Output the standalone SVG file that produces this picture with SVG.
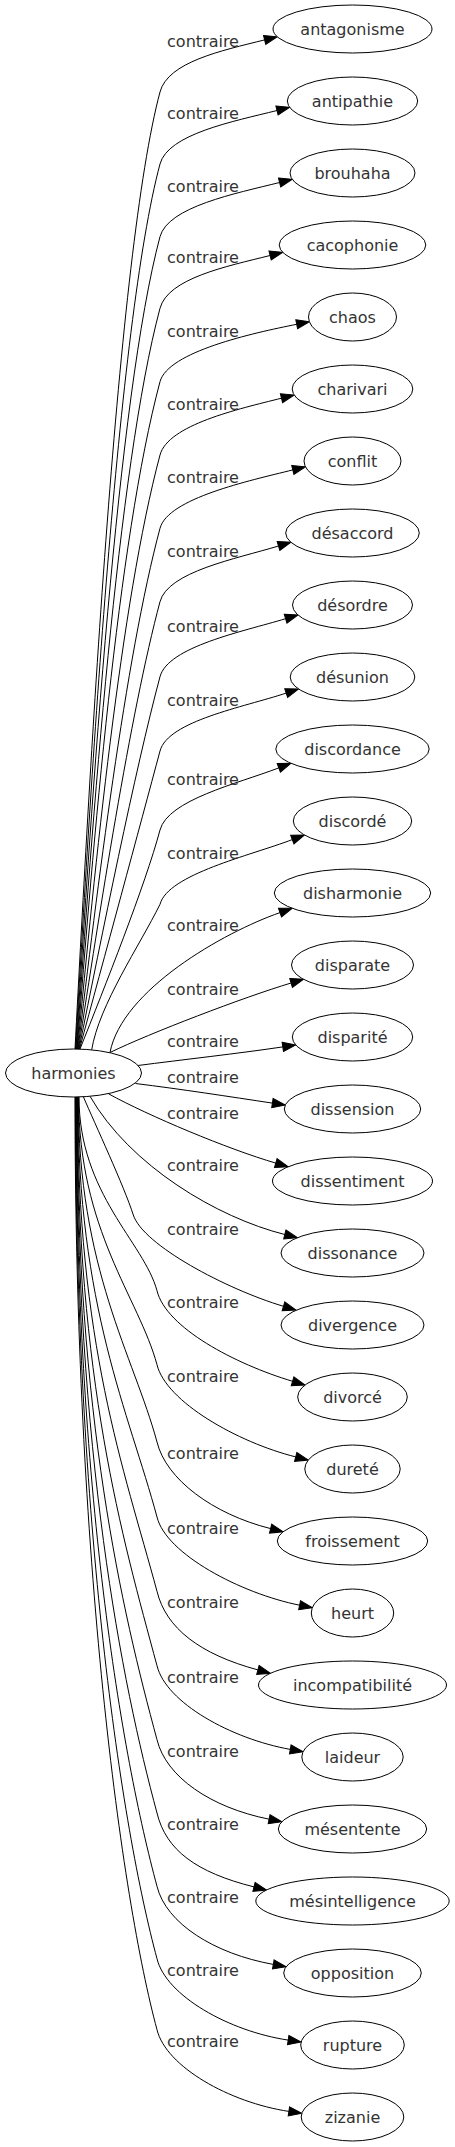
<svg xmlns="http://www.w3.org/2000/svg" width="455" height="2147" viewBox="0 0 455 2147">
<defs>
<style>
.e{fill:none;stroke:#000;stroke-width:1;marker-end:url(#arr)}
.n ellipse{fill:#fff;stroke:#000;stroke-width:1}
text{font-family:"DejaVu Sans","Liberation Sans",sans-serif;font-size:16px;fill:#333;text-anchor:middle}
</style>
<marker id="arr" markerUnits="userSpaceOnUse" markerWidth="15" markerHeight="12" refX="0" refY="6" orient="auto" overflow="visible">
<path d="M0,1.4 L13,6 L0,10.6 Z" fill="#000" stroke="#000" stroke-width="1"/>
</marker>
</defs>
<rect width="455" height="2147" fill="#fff"/>
<g id="edges">
<path class="e" d="M75,1049 C90.2,762.3 117.3,252 160,92 C168,62 220.9,50.8 264.6,39.9"/>
<path class="e" d="M75.5,1049 C90.8,783.9 117.3,324 160,164 C168,134 233.4,121.4 277,110.5"/>
<path class="e" d="M76,1049 C91.4,805.8 117.3,396.7 160,236.7 C168,206.7 235.9,193.4 279.6,182.5"/>
<path class="e" d="M76.5,1049 C92.1,827.4 117.3,468.3 160,308.3 C168,278.3 226.4,266.4 270.1,255.5"/>
<path class="e" d="M77,1049 C92.9,849.4 117.3,541.7 160,381.7 C168,351.7 252.5,333.1 296.7,324.3"/>
<path class="e" d="M77.5,1049 C94.6,871.6 120.4,603.5 160,455 C168,425 237.8,409.1 281.5,398.2"/>
<path class="e" d="M78,1049 C96.7,893.9 125.2,658.5 160,528.3 C168,498.3 249.1,480.8 292.8,469.9"/>
<path class="e" d="M78.5,1049 C98.9,916.4 130.1,713.5 160,601.7 C168,571.7 235.4,559 278.5,546"/>
<path class="e" d="M79,1049 C101,939.5 135.1,769.8 160,676.7 C168,646.7 242.5,631.7 285.6,618.7"/>
<path class="e" d="M79.5,1049 C102.9,962.7 140.1,825.5 160,751 C168,721 243.4,707.2 286.2,693.1"/>
<path class="e" d="M80,1049 C104.3,988 145.4,884.8 160,830 C168,800 236.7,783.9 278.8,767.9"/>
<path class="e" d="M91.7,1049.8 C99,1005 140,945 160,904.3 C168,874.3 250.2,855.6 292.3,839.6"/>
<path class="e" d="M110,1052.5 C122,990 223.4,932.4 280,912.6"/>
<path class="e" d="M110,1052.5 C150,1033.1 243.2,997.4 291.1,983"/>
<path class="e" d="M138,1065.5 C180,1060 240,1053.3 282.8,1046.9"/>
<path class="e" d="M135.5,1083.5 C180,1089 230,1096.7 272.4,1103.1"/>
<path class="e" d="M108.5,1093.8 C148.5,1115.8 227.8,1149.1 275.8,1163.1"/>
<path class="e" d="M90,1096.3 C130,1165.6 216.9,1217.5 284.8,1234.5"/>
<path class="e" d="M83.3,1096.6 C95,1124 124,1186 133.3,1215 C143,1245 226,1289.1 283.5,1306.3"/>
<path class="e" d="M79,1097 C79,1193.9 143.9,1242.3 157,1290.7 C166,1327.7 235.1,1364.1 292.6,1381.3"/>
<path class="e" d="M78.6,1097 C78.6,1230.9 138.9,1297.8 157,1364.7 C166,1401.7 237.5,1442.3 295.7,1456.9"/>
<path class="e" d="M78.2,1097 C78.2,1269.5 133.7,1355.8 157,1442 C166,1479 212.4,1514 270.6,1528.6"/>
<path class="e" d="M77.8,1097 C77.8,1307 128.7,1412 157,1517 C166,1554 240.8,1593.4 299.6,1605.2"/>
<path class="e" d="M77.4,1097 C77.4,1344.2 123.6,1467.7 157,1591.3 C166,1628.3 200,1654.3 257.9,1669.9"/>
<path class="e" d="M77,1097 C77,1381.4 121.9,1535.7 157,1665.7 C166,1702.7 231.2,1738.8 290.3,1749.4"/>
<path class="e" d="M76.6,1097 C76.6,1418.4 121.9,1609.7 157,1739.7 C166,1776.7 210.3,1807.4 269.1,1819.2"/>
<path class="e" d="M76.2,1097 C76.2,1455 121.9,1683 157,1813 C166,1850 195.8,1872.3 254,1886.9"/>
<path class="e" d="M75.8,1097 C75.8,1491.7 121.9,1756.3 157,1886.3 C166,1923.3 214.2,1953.8 273.3,1964.4"/>
<path class="e" d="M75.4,1097 C75.4,1527.9 121.9,1828.7 157,1958.7 C166,1995.7 228.9,2031.2 288.2,2040.1"/>
<path class="e" d="M75,1097 C75,1563.4 121.9,1899.7 157,2029.7 C166,2066.7 229.6,2102.5 288.9,2111.4"/>
<text x="203" y="47.3">contraire</text>
<text x="203" y="119">contraire</text>
<text x="203" y="191.7">contraire</text>
<text x="203" y="263.3">contraire</text>
<text x="203" y="336.7">contraire</text>
<text x="203" y="410">contraire</text>
<text x="203" y="483.3">contraire</text>
<text x="203" y="556.7">contraire</text>
<text x="203" y="631.7">contraire</text>
<text x="203" y="706">contraire</text>
<text x="203" y="785">contraire</text>
<text x="203" y="859.3">contraire</text>
<text x="203" y="931">contraire</text>
<text x="203" y="995">contraire</text>
<text x="203" y="1047.3">contraire</text>
<text x="203" y="1083.3">contraire</text>
<text x="203" y="1119.3">contraire</text>
<text x="203" y="1171">contraire</text>
<text x="203" y="1235">contraire</text>
<text x="203" y="1307.7">contraire</text>
<text x="203" y="1381.7">contraire</text>
<text x="203" y="1459">contraire</text>
<text x="203" y="1534">contraire</text>
<text x="203" y="1608.3">contraire</text>
<text x="203" y="1682.7">contraire</text>
<text x="203" y="1756.7">contraire</text>
<text x="203" y="1830">contraire</text>
<text x="203" y="1903.3">contraire</text>
<text x="203" y="1975.7">contraire</text>
<text x="203" y="2046.7">contraire</text>
</g>
<g id="harmonies" class="n"><ellipse cx="73.5" cy="1073" rx="68" ry="24"/><text x="73.5" y="1078.5">harmonies</text></g>
<g id="antagonisme" class="n"><ellipse cx="352.5" cy="29" rx="79.5" ry="24"/><text x="352.5" y="34.5">antagonisme</text></g>
<g id="antipathie" class="n"><ellipse cx="352.5" cy="101" rx="65.2" ry="24"/><text x="352.5" y="106.5">antipathie</text></g>
<g id="brouhaha" class="n"><ellipse cx="352.5" cy="173" rx="62.5" ry="24"/><text x="352.5" y="178.5">brouhaha</text></g>
<g id="cacophonie" class="n"><ellipse cx="352.5" cy="245" rx="73.3" ry="24"/><text x="352.5" y="250.5">cacophonie</text></g>
<g id="chaos" class="n"><ellipse cx="352.5" cy="317" rx="44" ry="24"/><text x="352.5" y="322.5">chaos</text></g>
<g id="charivari" class="n"><ellipse cx="352.5" cy="389" rx="60.3" ry="24"/><text x="352.5" y="394.5">charivari</text></g>
<g id="conflit" class="n"><ellipse cx="352.5" cy="461" rx="48.5" ry="24"/><text x="352.5" y="466.5">conflit</text></g>
<g id="desaccord" class="n"><ellipse cx="352.5" cy="533" rx="66.8" ry="24"/><text x="352.5" y="538.5">désaccord</text></g>
<g id="desordre" class="n"><ellipse cx="352.5" cy="605" rx="60" ry="24"/><text x="352.5" y="610.5">désordre</text></g>
<g id="desunion" class="n"><ellipse cx="352.5" cy="677" rx="62.3" ry="24"/><text x="352.5" y="682.5">désunion</text></g>
<g id="discordance" class="n"><ellipse cx="352.5" cy="749" rx="76.7" ry="24"/><text x="352.5" y="754.5">discordance</text></g>
<g id="discorde" class="n"><ellipse cx="352.5" cy="821" rx="59.2" ry="24"/><text x="352.5" y="826.5">discordé</text></g>
<g id="disharmonie" class="n"><ellipse cx="352.5" cy="893" rx="78.2" ry="24"/><text x="352.5" y="898.5">disharmonie</text></g>
<g id="disparate" class="n"><ellipse cx="352.5" cy="965" rx="61" ry="24"/><text x="352.5" y="970.5">disparate</text></g>
<g id="disparite" class="n"><ellipse cx="352.5" cy="1037" rx="60.2" ry="24"/><text x="352.5" y="1042.5">disparité</text></g>
<g id="dissension" class="n"><ellipse cx="352.5" cy="1109" rx="68.2" ry="24"/><text x="352.5" y="1114.5">dissension</text></g>
<g id="dissentiment" class="n"><ellipse cx="352.5" cy="1181" rx="80" ry="24"/><text x="352.5" y="1186.5">dissentiment</text></g>
<g id="dissonance" class="n"><ellipse cx="352.5" cy="1253" rx="71.5" ry="24"/><text x="352.5" y="1258.5">dissonance</text></g>
<g id="divergence" class="n"><ellipse cx="352.5" cy="1325" rx="71.5" ry="24"/><text x="352.5" y="1330.5">divergence</text></g>
<g id="divorce" class="n"><ellipse cx="352.5" cy="1397" rx="54.8" ry="24"/><text x="352.5" y="1402.5">divorcé</text></g>
<g id="durete" class="n"><ellipse cx="352.5" cy="1469" rx="47.7" ry="24"/><text x="352.5" y="1474.5">dureté</text></g>
<g id="froissement" class="n"><ellipse cx="352.5" cy="1541" rx="75.2" ry="24"/><text x="352.5" y="1546.5">froissement</text></g>
<g id="heurt" class="n"><ellipse cx="352.5" cy="1613" rx="41.2" ry="24"/><text x="352.5" y="1618.5">heurt</text></g>
<g id="incompatibilite" class="n"><ellipse cx="352.5" cy="1685" rx="94" ry="24"/><text x="352.5" y="1690.5">incompatibilité</text></g>
<g id="laideur" class="n"><ellipse cx="352.5" cy="1757" rx="50.7" ry="24"/><text x="352.5" y="1762.5">laideur</text></g>
<g id="mesentente" class="n"><ellipse cx="352.5" cy="1829" rx="74.2" ry="24"/><text x="352.5" y="1834.5">mésentente</text></g>
<g id="mesintelligence" class="n"><ellipse cx="352.5" cy="1901" rx="96.7" ry="24"/><text x="352.5" y="1906.5">mésintelligence</text></g>
<g id="opposition" class="n"><ellipse cx="352.5" cy="1973" rx="68.8" ry="24"/><text x="352.5" y="1978.5">opposition</text></g>
<g id="rupture" class="n"><ellipse cx="352.5" cy="2045" rx="51.8" ry="24"/><text x="352.5" y="2050.5">rupture</text></g>
<g id="zizanie" class="n"><ellipse cx="352.5" cy="2117" rx="51.3" ry="24"/><text x="352.5" y="2122.5">zizanie</text></g>
</svg>
